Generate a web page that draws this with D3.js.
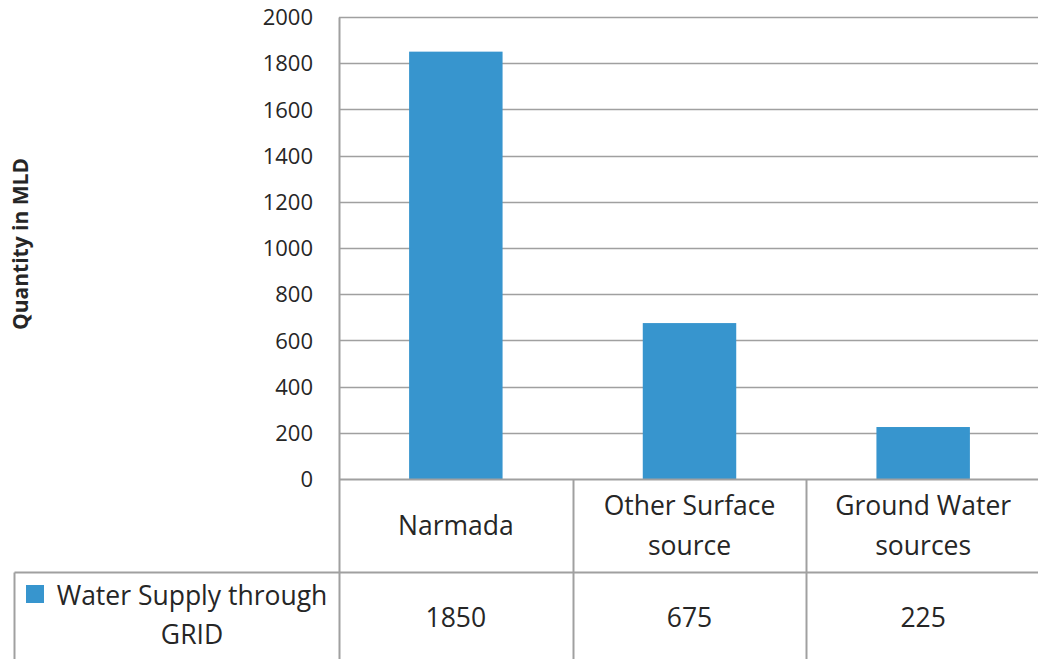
<!DOCTYPE html>
<html>
<head>
<meta charset="utf-8">
<script src="https://cdn.jsdelivr.net/npm/d3@7"></script>
<style>
  body { margin: 0; background: #fff; }
  svg text { font-family: "Open Sans", Lato, sans-serif; fill: #262626; }
</style>
</head>
<body>
<div id="chart"></div>
<script>
// chart data
var categories = [["Narmada"], ["Other Surface", "source"], ["Ground Water", "sources"]];
var values = [1850, 675, 225];
var seriesName = ["Water Supply through", "GRID"];
var yTicks = [0, 200, 400, 600, 800, 1000, 1200, 1400, 1600, 1800, 2000];

var width = 1038, height = 659;
var plot = { left: 339, right: 1038, top: 17, bottom: 479 };
var rowLine = 572;
var barColor = "#3795CE";
var gridColor = "#A0A0A0";

var svg = d3.select("#chart")
  .append("svg")
  .attr("width", width)
  .attr("height", height);

var x = d3.scaleBand()
  .domain(d3.range(values.length))
  .range([plot.left, plot.left + 701]);

var y = d3.scaleLinear()
  .domain([0, 2000])
  .range([plot.bottom, plot.top]);

// gridlines
svg.append("g")
  .selectAll("line")
  .data(yTicks.filter(function(d) { return d > 0; }))
  .enter().append("line")
  .attr("x1", plot.left).attr("x2", plot.right)
  .attr("y1", function(d) { return Math.round(y(d)) + 0.5; })
  .attr("y2", function(d) { return Math.round(y(d)) + 0.5; })
  .style("stroke", gridColor)
  .style("stroke-width", 1.5);

// bars
var barW = x.bandwidth() * 0.4;
svg.append("g")
  .selectAll("rect")
  .data(values)
  .enter().append("rect")
  .attr("x", function(d, i) { return x(i) + (x.bandwidth() - barW) / 2; })
  .attr("y", function(d) { return y(d); })
  .attr("width", barW)
  .attr("height", function(d) { return y(0) - y(d); })
  .attr("fill", barColor);

// y axis
var yAxis = d3.axisLeft(y).tickValues(yTicks).tickFormat(d3.format("d")).tickSize(0).tickPadding(26);
var yg = svg.append("g")
  .attr("transform", "translate(" + plot.left + ",0)")
  .call(yAxis);
yg.select(".domain").remove();
yg.selectAll("text")
  .style("font-family", null)
  .style("font-size", "22px")
  .attr("dy", "0.35em");

// axis and table lines
var lines = [
  [plot.left, plot.top, plot.left, height],           // y axis + first col
  [plot.left, plot.bottom, plot.right, plot.bottom],  // x axis
  [14, rowLine, plot.right, rowLine],                 // row separator
  [14, rowLine, 14, height]                           // legend cell left
];
values.forEach(function(d, i) {
  if (i > 0) lines.push([x(i), plot.bottom, x(i), height]);
});
svg.append("g")
  .selectAll("line")
  .data(lines)
  .enter().append("line")
  .attr("x1", function(d) { return Math.round(d[0]) + 0.5; })
  .attr("y1", function(d) { return Math.round(d[1]) + 0.5; })
  .attr("x2", function(d) { return Math.round(d[2]) + 0.5; })
  .attr("y2", function(d) { return Math.round(d[3]) + 0.5; })
  .style("stroke", gridColor)
  .style("stroke-width", 2);

// category labels
var catMid = (plot.bottom + rowLine) / 2;
var catG = svg.append("g").selectAll("text")
  .data(categories)
  .enter().append("text")
  .attr("text-anchor", "middle")
  .style("font-size", "26.5px")
  .attr("x", function(d, i) { return x(i) + x.bandwidth() / 2; })
  .attr("y", function(d) { return catMid - (d.length - 1) * 20; });
catG.selectAll("tspan")
  .data(function(d) { return d; })
  .enter().append("tspan")
  .attr("x", function() { return d3.select(this.parentNode).attr("x"); })
  .attr("dy", function(d, i) { return i === 0 ? "0.35em" : 40; })
  .text(function(d) { return d; });

// value row
var valMid = (rowLine + height) / 2 + 2;
svg.append("g").selectAll("text")
  .data(values)
  .enter().append("text")
  .attr("text-anchor", "middle")
  .style("font-size", "26.5px")
  .attr("x", function(d, i) { return x(i) + x.bandwidth() / 2; })
  .attr("y", valMid)
  .attr("dy", "0.35em")
  .text(function(d) { return d; });

// legend cell
svg.append("rect")
  .attr("x", 26).attr("y", 585)
  .attr("width", 18).attr("height", 18)
  .attr("fill", barColor);
var leg = svg.append("text")
  .attr("text-anchor", "middle")
  .style("font-size", "26.5px")
  .attr("x", 192).attr("y", 605);
leg.selectAll("tspan")
  .data(seriesName)
  .enter().append("tspan")
  .attr("x", 192)
  .attr("dy", function(d, i) { return i === 0 ? 0 : 39; })
  .text(function(d) { return d; });

// y axis title
svg.append("text")
  .attr("transform", "translate(28,244) rotate(-90)")
  .attr("text-anchor", "middle")
  .style("font-size", "21px")
  .style("font-weight", "bold")
  .text("Quantity in MLD");
</script>
</body>
</html>
